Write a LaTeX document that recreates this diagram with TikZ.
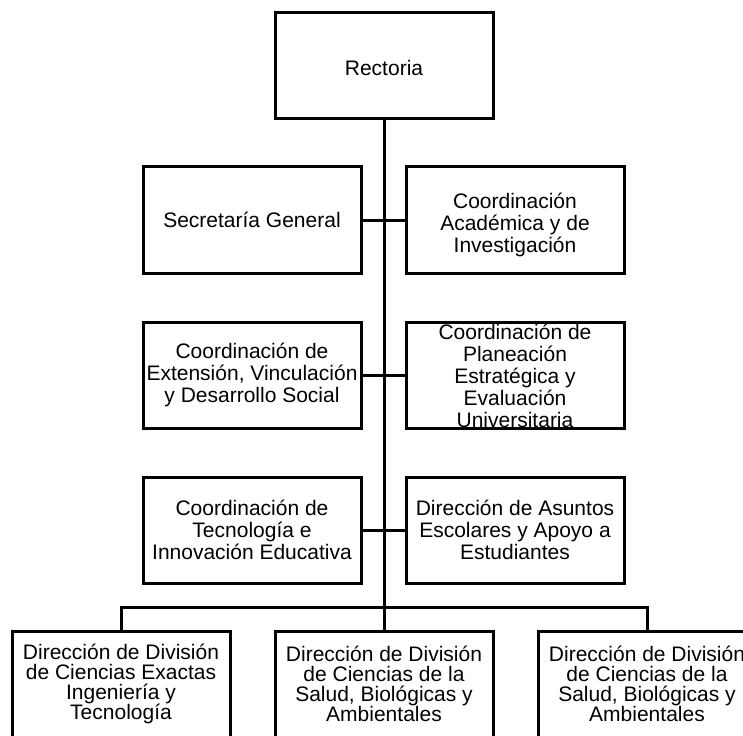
\documentclass[tikz,border=0pt]{standalone}
\usepackage{fontspec}
\setmainfont{Liberation Sans}
\begin{document}
\begin{tikzpicture}[x=1pt,y=-1pt,line width=3pt,
  orgbox/.style={draw=black,fill=white,minimum width=218pt,minimum height=106pt,inner sep=0pt},
  orgtxt/.style={font=\fontsize{21}{22}\selectfont,align=center,inner sep=0pt,text=black},
  lowtxt/.style={font=\fontsize{21}{20}\selectfont,align=center,inner sep=0pt,text=black,yshift=2pt}]
\useasboundingbox (0,0) rectangle (743,735);
\clip (0,0) rectangle (743,735);
\fill[white] (0,0) rectangle (743,735);
% top
\node[orgbox,label={[orgtxt,yshift=-2pt]center:Rectoria}] (rect) at (384,66) {};
% row 1
\node[orgbox,label={[orgtxt]center:Secretaría General}] (a1) at (252,220) {};
\node[orgbox,label={[orgtxt,yshift=-5pt]center:Coordinación\\Académica y de\\Investigación}] (b1) at (515,220) {};
% row 2
\node[orgbox,label={[orgtxt]center:Coordinación de\\Extensión, Vinculación\\y Desarrollo Social}] (a2) at (252,375) {};
\node[orgbox,label={[orgtxt,yshift=-1pt]center:Coordinación de\\Planeación\\Estratégica y\\Evaluación\\Universitaria}] (b2) at (515,375) {};
% row 3
\node[orgbox,label={[orgtxt]center:Coordinación de\\Tecnología e\\Innovación Educativa}] (a3) at (252,530) {};
\node[orgbox,label={[orgtxt]center:Dirección de Asuntos\\Escolares y Apoyo a\\Estudiantes}] (b3) at (515,530) {};
% bottom row
\node[orgbox,minimum height=110pt,label={[lowtxt]center:Dirección de División\\de Ciencias Exactas\\Ingeniería y\\Tecnología}] (c1) at (121,686) {};
\node[orgbox,minimum height=110pt,label={[lowtxt]center:Dirección de División\\de Ciencias de la\\Salud, Biológicas y\\Ambientales}] (c2) at (384,686) {};
\node[orgbox,minimum height=110pt,label={[lowtxt]center:Dirección de División\\de Ciencias de la\\Salud, Biológicas y\\Ambientales}] (c3) at (647,686) {};
% connectors
\coordinate (busL) at (121,607);
\coordinate (busR) at (647,607);
\draw (rect.south) -- (c2.north);
\draw (a1.east) -- (b1.west);
\draw (a2.east) -- (b2.west);
\draw (a3.east) -- (b3.west);
\draw[line join=miter] (c1.north) -- (busL) -- (busR) -- (c3.north);
\end{tikzpicture}
\end{document}
